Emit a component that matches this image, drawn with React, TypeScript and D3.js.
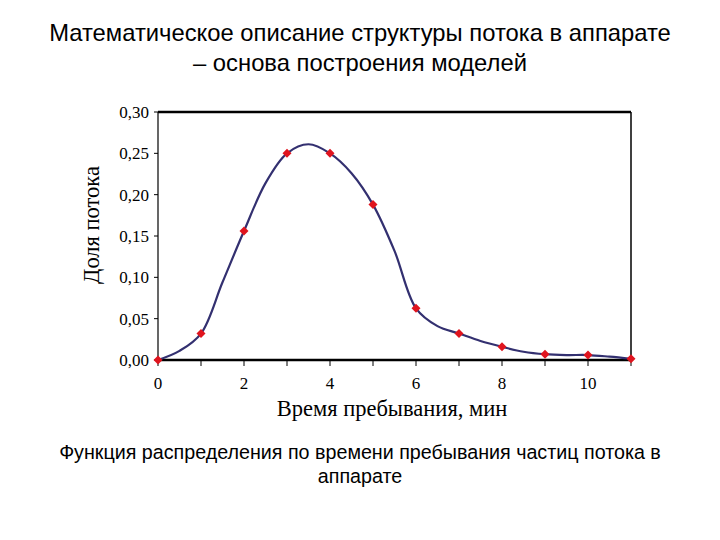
import React from "react";
import * as d3 from "d3";

const titleLines = ["Математическое описание структуры потока в аппарате", "– основа построения моделей"];
const captionLines = ["Функция распределения по времени пребывания частиц потока в", "аппарате"];
const xLabel = "Время пребывания, мин";
const yLabel = "Доля потока";

// measured points (markers)
const markerX = [0, 1, 2, 3, 4, 5, 6, 7, 8, 9, 10, 11];
const markerY = [0.0, 0.032, 0.156, 0.25, 0.25, 0.188, 0.0625, 0.032, 0.016, 0.007, 0.006, 0.0015];

// smooth curve
const curveX = [0, 0.5, 1, 1.5, 2, 2.5, 3, 3.5, 4, 4.5, 5, 5.5, 6, 6.5, 7, 7.5, 8, 8.5, 9, 9.5, 10, 10.5, 11];
const curveY = [0.0, 0.011, 0.032, 0.094, 0.156, 0.214, 0.25, 0.261, 0.25, 0.226, 0.188, 0.132, 0.0625, 0.041, 0.032, 0.023, 0.016, 0.01, 0.007, 0.006, 0.006, 0.004, 0.0015];

const xTicks = [0, 1, 2, 3, 4, 5, 6, 7, 8, 9, 10, 11];
const xTickLabels = [0, 2, 4, 6, 8, 10];
const yTicks = [0, 0.05, 0.1, 0.15, 0.2, 0.25, 0.3];

export default function App() {
  const W = 720, H = 540;
  const left = 158, right = 631, top = 112, bottom = 360;
  const x = d3.scaleLinear().domain([0, 11]).range([left, right]);
  const y = d3.scaleLinear().domain([0, 0.3]).range([bottom, top]);
  const pts: [number, number][] = curveX.map((v, i) => [v, curveY[i]]);
  const line = d3
    .line<[number, number]>()
    .x((d) => x(d[0]))
    .y((d) => y(d[1]))
    .curve(d3.curveCatmullRom.alpha(0.5));
  const fmt = (v: number) => v.toFixed(2).replace(".", ",");
  const sans = "'Liberation Sans', Arial, sans-serif";
  const serif = "'Liberation Serif', 'Times New Roman', serif";

  return (
    <svg width={W} height={H} style={{ position: "absolute", left: 0, top: 0, background: "#fff" }}>
      <rect x={0} y={0} width={W} height={H} fill="#fff" />
      {titleLines.map((t, i) => (
        <text key={i} x={360} y={41 + i * 30} textAnchor="middle" fontFamily={sans} fontSize={23.8} fill="#000">
          {t}
        </text>
      ))}
      {/* frame */}
      <line x1={left} x2={right} y1={top} y2={top} stroke="#000" strokeWidth={2.5} />
      <line x1={right} x2={right} y1={top} y2={bottom} stroke="#000" strokeWidth={1.5} />
      <line x1={left} x2={left} y1={top} y2={bottom} stroke="#000" strokeWidth={1.2} />
      <line x1={left} x2={right} y1={bottom} y2={bottom} stroke="#000" strokeWidth={2.5} />
      {/* y ticks */}
      {yTicks.map((t) => (
        <g key={t}>
          <line x1={left - 4} x2={left} y1={y(t)} y2={y(t)} stroke="#000" strokeWidth={1} />
          <text x={149} y={y(t) + 6} textAnchor="end" fontFamily={serif} fontSize={17} fill="#000">
            {fmt(t)}
          </text>
        </g>
      ))}
      {/* x ticks */}
      {xTicks.map((t) => (
        <line key={t} x1={x(t)} x2={x(t)} y1={bottom} y2={bottom + 6} stroke="#000" strokeWidth={1} />
      ))}
      {xTickLabels.map((t) => (
        <text key={t} x={x(t)} y={389} textAnchor="middle" fontFamily={serif} fontSize={17} fill="#000">
          {t}
        </text>
      ))}
      <text x={392} y={416} textAnchor="middle" fontFamily={serif} fontSize={22.5} fill="#000">
        {xLabel}
      </text>
      <text
        transform={`translate(99,225) rotate(-90)`}
        textAnchor="middle"
        fontFamily={serif}
        fontSize={22.5}
        fill="#000"
      >
        {yLabel}
      </text>
      {/* curve */}
      <path d={line(pts) || ""} fill="none" stroke="#333070" strokeWidth={2.2} />
      {markerX.map((v, i) => (
        <rect
          key={i}
          x={x(v) - 3.2}
          y={y(markerY[i]) - 3.2}
          width={6.4}
          height={6.4}
          transform={`rotate(45, ${x(v)}, ${y(markerY[i])})`}
          fill="#e0141e"
        />
      ))}
      {captionLines.map((t, i) => (
        <text key={i} x={360} y={459 + i * 24} textAnchor="middle" fontFamily={sans} fontSize={19.7} fill="#000">
          {t}
        </text>
      ))}
    </svg>
  );
}
